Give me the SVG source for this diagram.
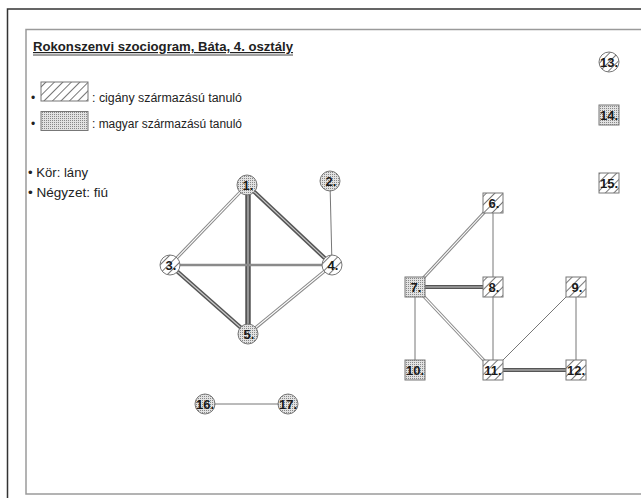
<svg xmlns="http://www.w3.org/2000/svg" width="641" height="498" viewBox="0 0 641 498">
<defs>
<pattern id="hatch" width="6" height="6" patternUnits="userSpaceOnUse" patternTransform="rotate(45)">
<rect width="6" height="6" fill="#fff"/>
<line x1="0" y1="0" x2="0" y2="6" stroke="#777" stroke-width="2"/>
</pattern>
<pattern id="dots" width="2" height="2" patternUnits="userSpaceOnUse">
<rect width="2" height="2" fill="#e2e2e2"/>
<rect width="1" height="1" fill="#888"/>
</pattern>
</defs>
<style>
.lbl{font-family:"Liberation Sans",Arial,sans-serif;font-size:12px;fill:#222}
.nl{font-family:"Liberation Sans",Arial,sans-serif;font-size:13px;font-weight:bold;fill:#1a1a1a;text-anchor:middle}
.h{fill:url(#hatch);stroke:#777;stroke-width:1}
.d{fill:url(#dots);stroke:#777;stroke-width:1}
.e1{stroke:#777;stroke-width:1;fill:none}
.e2o{stroke:#888;stroke-width:3.2;fill:none}
.e2i{stroke:#fff;stroke-width:1.1;fill:none}
.e3o{stroke:#555;stroke-width:4.2;fill:none}
.e3i{stroke:#ccc;stroke-width:1.1;fill:none}
.e4{stroke:#8a8a8a;stroke-width:2.6;fill:none}
</style>
<rect x="0" y="0" width="641" height="498" fill="#fff"/>
<rect x="7.5" y="9" width="700" height="600" fill="none" stroke="#333" stroke-width="1.5"/>
<rect x="26" y="29.5" width="700" height="464.5" fill="none" stroke="#9a9a9a" stroke-width="1.5"/>

<g id="legend">
<text class="lbl" x="33" y="51" font-weight="bold" font-size="13.5" textLength="260" lengthAdjust="spacingAndGlyphs" text-decoration="underline">Rokonszenvi szociogram, Báta, 4. osztály</text>
<line x1="33" y1="55" x2="293" y2="55" stroke="#444" stroke-width="1"/>
<text class="lbl" x="31" y="102">•</text>
<rect class="h" x="41" y="82" width="47" height="19"/>
<text class="lbl" x="92" y="102" textLength="150" lengthAdjust="spacingAndGlyphs">: cigány származású tanuló</text>
<text class="lbl" x="31" y="128">•</text>
<rect class="d" x="41" y="111.5" width="47" height="19"/>
<text class="lbl" x="92" y="128" textLength="150" lengthAdjust="spacingAndGlyphs">: magyar származású tanuló</text>
<text class="lbl" x="28" y="177" textLength="60" lengthAdjust="spacingAndGlyphs">• Kör: lány</text>
<text class="lbl" x="28" y="197" textLength="80" lengthAdjust="spacingAndGlyphs">• Négyzet: fiú</text>
</g>

<g id="connectors">
<line class="e1" x1="330" y1="183" x2="332" y2="265"/>
<line class="e2o" x1="247" y1="185" x2="170" y2="265"/><line class="e2i" x1="247" y1="185" x2="170" y2="265"/>
<line class="e3o" x1="247" y1="185" x2="332" y2="265"/><line class="e3i" x1="247" y1="185" x2="332" y2="265"/>
<line stroke="#555" stroke-width="5.5" x1="248" y1="185" x2="248" y2="334"/><line class="e3i" x1="248" y1="185" x2="248" y2="334"/>
<line class="e4" x1="170" y1="265" x2="332" y2="265"/>
<line class="e3o" x1="170" y1="265" x2="248" y2="334"/><line class="e3i" x1="170" y1="265" x2="248" y2="334"/>
<line class="e2o" x1="332" y1="265" x2="248" y2="334"/><line class="e2i" x1="332" y1="265" x2="248" y2="334"/>

<line class="e1" x1="493" y1="203" x2="493" y2="287"/>
<line class="e2o" x1="493" y1="203" x2="415" y2="287"/><line class="e2i" x1="493" y1="203" x2="415" y2="287"/>
<line class="e3o" x1="415" y1="287" x2="493" y2="287"/><line class="e3i" x1="415" y1="287" x2="493" y2="287"/>
<line class="e1" x1="415" y1="287" x2="415" y2="370"/>
<line class="e2o" x1="415" y1="287" x2="493" y2="370"/><line class="e2i" x1="415" y1="287" x2="493" y2="370"/>
<line class="e1" x1="493" y1="287" x2="493" y2="370"/>
<line class="e1" x1="576" y1="287" x2="493" y2="370"/>
<line class="e1" x1="576" y1="287" x2="576" y2="370"/>
<line class="e3o" x1="493" y1="370" x2="576" y2="370"/><line class="e3i" x1="493" y1="370" x2="576" y2="370"/>

<line class="e1" x1="205" y1="404" x2="288" y2="404"/>
</g>

<g id="n1"><circle class="d" cx="247" cy="185" r="10"/><text class="nl" x="248" y="190">1.</text></g>
<g id="n2"><circle class="d" cx="330" cy="181" r="10"/><text class="nl" x="331" y="186">2.</text></g>
<g id="n3"><circle class="h" cx="170" cy="265" r="10"/><text class="nl" x="171" y="270">3.</text></g>
<g id="n4"><circle class="h" cx="332" cy="265" r="10"/><text class="nl" x="333" y="270">4.</text></g>
<g id="n5"><circle class="d" cx="248" cy="334" r="10"/><text class="nl" x="249" y="339">5.</text></g>
<g id="n6"><rect class="h" x="483" y="193" width="20" height="20"/><text class="nl" x="494" y="208">6.</text></g>
<g id="n7"><rect class="d" x="405" y="277" width="20" height="20"/><text class="nl" x="416" y="292">7.</text></g>
<g id="n8"><rect class="h" x="483" y="277" width="20" height="20"/><text class="nl" x="494" y="292">8.</text></g>
<g id="n9"><rect class="h" x="566" y="277" width="20" height="20"/><text class="nl" x="577" y="292">9.</text></g>
<g id="n10"><rect class="d" x="405" y="360" width="20" height="20"/><text class="nl" x="415" y="375">10.</text></g>
<g id="n11"><rect class="h" x="483" y="360" width="20" height="20"/><text class="nl" x="493" y="375">11.</text></g>
<g id="n12"><rect class="h" x="566" y="360" width="20" height="20"/><text class="nl" x="576" y="375">12.</text></g>
<g id="n13"><circle class="h" cx="609" cy="62" r="10"/><text class="nl" x="609" y="67">13.</text></g>
<g id="n14"><rect class="d" x="599" y="105" width="20" height="20"/><text class="nl" x="609" y="120">14.</text></g>
<g id="n15"><rect class="h" x="599" y="173" width="20" height="20"/><text class="nl" x="609" y="188">15.</text></g>
<g id="n16"><circle class="d" cx="205" cy="404" r="10"/><text class="nl" x="205" y="409">16.</text></g>
<g id="n17"><circle class="d" cx="288" cy="404" r="10"/><text class="nl" x="288" y="409">17.</text></g>
</svg>
